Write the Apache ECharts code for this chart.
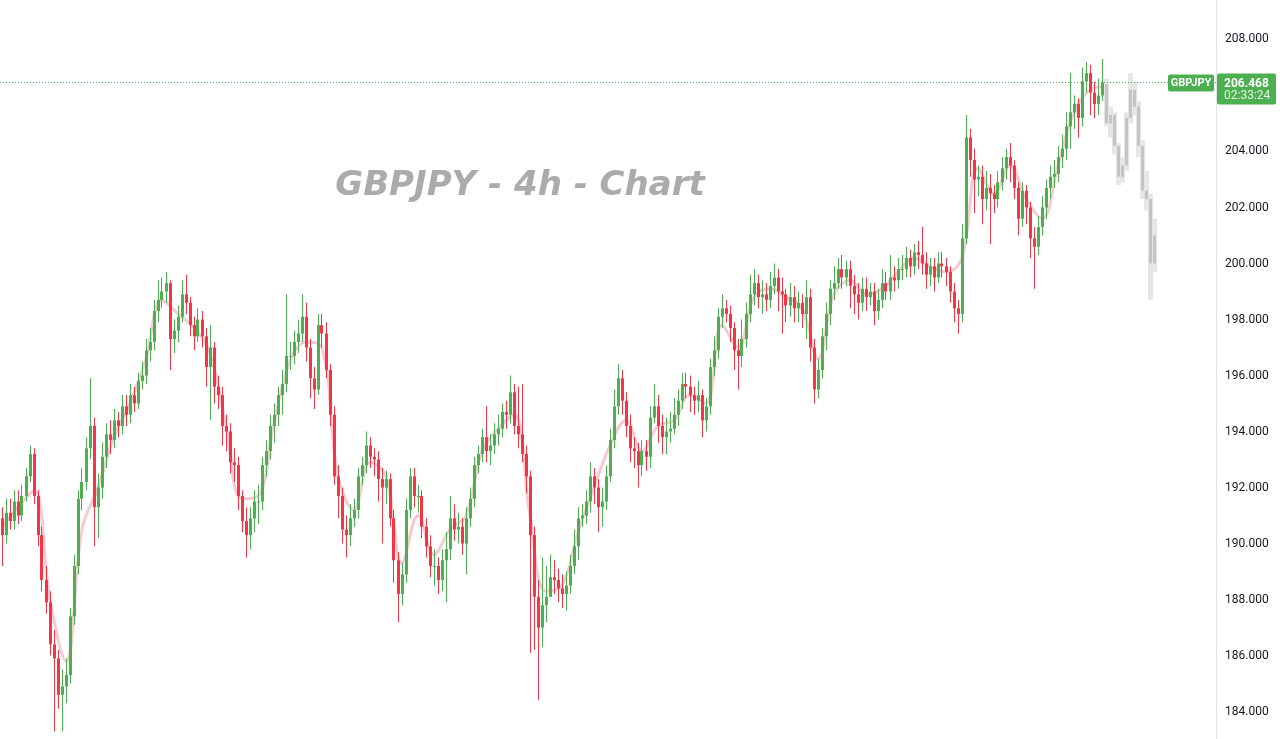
<!DOCTYPE html>
<html><head><meta charset="utf-8">
<script src="https://cdn.jsdelivr.net/npm/echarts@6/dist/echarts.min.js"></script>
<style>html,body{margin:0;padding:0;background:#fff;overflow:hidden}#c{width:1280px;height:739px}</style>
</head><body><div id="c"></div>
<script>
// ---- data (4h candles) ----
const opens = [
190.9,190.3,191.1,190.8,191.5,191.0,191.7,192.4,193.2,191.7,
190.3,188.7,187.9,186.4,185.9,184.6,184.9,185.3,187.4,189.2,
191.6,192.2,193.4,194.2,191.3,192.0,193.1,193.9,193.7,194.4,
194.2,194.9,194.6,195.3,195.0,195.8,196.0,196.9,197.2,198.3,
198.7,199.0,199.3,197.3,197.6,198.1,198.9,198.6,197.8,197.4,
198.0,197.4,196.3,197.0,195.6,195.3,194.2,194.0,192.9,192.8,
191.7,190.8,190.3,190.9,191.5,191.5,192.8,193.3,194.2,194.6,
195.3,195.7,196.7,196.7,197.2,197.5,198.1,197.0,195.9,195.5,
197.8,197.5,196.2,194.6,192.4,191.7,190.5,190.3,190.9,191.2,
192.4,192.8,193.5,193.1,193.0,192.3,192.0,192.3,190.9,189.4,
188.2,188.9,191.2,192.4,191.7,191.7,190.6,189.9,189.2,189.2,
188.7,189.4,189.8,190.9,190.5,190.6,190.0,190.9,191.6,192.8,
193.2,193.8,193.3,193.5,193.9,194.1,194.7,194.6,195.4,194.2,
193.9,193.2,192.4,190.3,188.1,187.0,187.8,188.1,188.8,188.7,
188.4,188.2,188.5,189.2,189.9,190.9,191.0,191.5,192.4,192.0,
191.3,191.5,192.4,193.7,194.9,195.9,195.1,194.2,193.4,193.3,
192.8,193.3,193.1,194.5,194.9,194.2,193.8,194.0,194.1,194.6,
195.1,195.7,195.6,195.3,195.1,195.3,194.4,194.9,196.3,196.9,
198.1,198.4,198.2,197.7,196.9,196.7,197.3,198.2,198.9,199.3,
198.8,198.9,198.7,199.2,199.5,199.0,198.9,198.5,198.8,198.4,
198.6,198.2,198.8,197.0,195.5,196.2,197.4,198.2,199.1,199.3,
199.8,199.5,199.8,199.2,198.9,198.6,199.1,198.8,199.0,198.3,
198.7,199.3,199.0,199.5,199.4,199.8,199.8,200.2,199.9,200.4,
200.3,200.0,199.6,199.9,199.5,200.0,199.9,199.7,199.0,198.4,
198.2,200.9,204.5,203.7,203.0,203.1,202.3,202.7,202.5,202.3,
202.9,203.4,203.8,203.5,202.7,201.6,202.6,202.0,200.9,200.6,
201.3,202.0,202.7,203.1,203.2,203.8,204.1,204.9,205.4,205.7,
205.2,206.5,206.8,206.1,205.7,206.0
];
const closes = [
190.3,191.1,190.8,191.5,191.0,191.7,192.4,193.2,191.7,190.3,
188.7,187.9,186.4,185.9,184.6,184.9,185.3,187.4,189.2,191.6,
192.2,193.4,194.2,191.3,192.0,193.1,193.9,193.7,194.4,194.2,
194.9,194.6,195.3,195.0,195.8,196.0,196.9,197.2,198.3,198.7,
199.0,199.3,197.3,197.6,198.1,198.9,198.6,197.8,197.4,198.0,
197.4,196.3,197.0,195.6,195.3,194.2,194.0,192.9,192.8,191.7,
190.8,190.3,190.9,191.5,191.5,192.8,193.3,194.2,194.6,195.3,
195.7,196.7,196.7,197.2,197.5,198.1,197.0,195.9,195.5,197.8,
197.5,196.2,194.6,192.4,191.7,190.5,190.3,190.9,191.2,192.4,
192.8,193.5,193.1,193.0,192.3,192.0,192.3,190.9,189.4,188.2,
188.9,191.2,192.4,191.7,191.7,190.6,189.9,189.2,189.2,188.7,
189.4,189.8,190.9,190.5,190.6,190.0,190.9,191.6,192.8,193.2,
193.8,193.3,193.5,193.9,194.1,194.7,194.6,195.4,194.2,193.9,
193.2,192.4,190.3,188.1,187.0,187.8,188.1,188.8,188.7,188.4,
188.2,188.5,189.2,189.9,190.9,191.0,191.5,192.4,192.0,191.3,
191.5,192.4,193.7,194.9,195.9,195.1,194.2,193.4,193.3,192.8,
193.3,193.1,194.5,194.9,194.2,193.8,194.0,194.1,194.6,195.1,
195.7,195.6,195.3,195.1,195.3,194.4,194.9,196.3,196.9,198.1,
198.4,198.2,197.7,196.9,196.7,197.3,198.2,198.9,199.3,198.8,
198.9,198.7,199.2,199.5,199.0,198.9,198.5,198.8,198.4,198.6,
198.2,198.8,197.0,195.5,196.2,197.4,198.2,199.1,199.3,199.8,
199.5,199.8,199.2,198.9,198.6,199.1,198.8,199.0,198.3,198.7,
199.3,199.0,199.5,199.4,199.8,199.8,200.2,199.9,200.4,200.3,
200.0,199.6,199.9,199.5,200.0,199.9,199.7,199.0,198.4,198.2,
200.9,204.5,203.7,203.0,203.1,202.3,202.7,202.5,202.3,202.9,
203.4,203.8,203.5,202.7,201.6,202.6,202.0,200.9,200.6,201.3,
202.0,202.7,203.1,203.2,203.8,204.1,204.9,205.4,205.7,205.2,
206.5,206.8,206.1,205.7,206.0,206.468
];
const highs = [
191.3,191.6,191.6,191.9,191.9,192.1,192.7,193.5,193.4,191.9,
190.6,189.2,188.3,186.9,186.2,185.5,185.9,187.7,189.6,191.9,
192.7,193.8,195.9,194.5,192.5,193.6,194.3,194.4,194.8,194.7,
195.3,195.3,195.7,195.6,196.1,196.5,197.3,197.7,198.7,199.4,
199.5,199.7,199.4,198.0,198.5,199.4,199.6,198.8,198.1,198.4,
198.3,197.7,197.8,197.2,196.0,195.6,194.6,194.3,193.4,193.1,
191.9,191.3,191.3,191.9,192.1,193.1,193.7,194.6,195.0,195.6,
196.2,198.9,197.2,197.6,198.0,198.9,198.6,197.3,196.3,198.2,
198.2,197.9,196.4,194.9,192.8,192.0,191.0,191.4,191.6,192.7,
193.1,194.0,193.8,193.4,193.3,192.7,192.6,192.5,191.2,189.7,
189.3,191.6,192.7,192.7,192.1,191.9,190.9,190.3,189.8,189.5,
189.8,190.4,191.7,191.4,191.1,190.9,191.3,192.0,193.1,193.5,
194.1,194.9,193.9,194.3,194.6,195.0,195.1,196.0,195.7,195.6,
195.7,193.5,192.6,190.6,188.7,189.5,189.2,189.6,189.4,189.1,
188.9,189.0,189.6,190.5,191.3,191.4,191.9,192.9,192.7,192.3,
192.0,192.8,194.1,195.5,196.4,196.2,195.4,194.6,193.8,193.6,
193.7,193.7,194.9,195.7,195.3,194.6,194.5,194.7,195.2,195.5,
196.1,196.1,196.0,195.6,195.8,195.5,195.2,196.6,197.4,198.4,
198.9,198.7,198.5,197.9,197.3,198.0,198.6,199.6,199.8,199.6,
199.4,199.3,199.7,200.0,199.8,199.5,199.1,199.3,199.2,199.0,
198.9,199.4,199.1,197.3,196.6,197.7,198.6,199.4,199.9,200.2,
200.3,200.1,200.1,199.6,199.3,199.5,199.5,199.3,199.3,199.1,
199.8,199.7,200.3,199.9,200.2,200.3,200.6,200.5,200.7,200.8,
201.3,200.4,200.2,200.2,200.4,200.4,200.2,199.9,199.3,198.7,
201.4,205.3,204.8,204.1,203.5,203.5,203.3,203.2,202.8,203.3,
203.8,204.1,204.3,203.7,202.9,202.9,202.8,202.2,201.3,201.7,
202.4,203.0,203.5,203.7,204.2,204.6,205.4,206.8,206.0,205.9,
207.0,207.2,207.1,206.5,206.6,207.3
];
const lows = [
189.2,190.0,190.5,190.5,190.7,190.8,191.5,192.2,191.4,189.9,
188.3,187.5,186.0,183.3,184.1,183.3,184.3,185.0,187.1,188.9,
191.2,191.9,193.0,189.9,190.2,191.6,192.7,193.2,193.4,193.8,
193.9,194.2,194.3,194.7,194.8,195.5,195.7,196.5,196.9,197.9,
198.4,198.6,196.2,196.8,197.2,197.9,198.2,197.4,196.9,197.2,
197.0,195.6,194.4,195.0,194.8,193.5,193.3,192.5,192.2,191.2,
190.4,189.5,189.8,190.4,190.7,191.2,192.4,193.0,193.6,194.2,
194.6,195.4,196.2,196.4,196.8,197.2,196.5,195.2,194.8,195.3,
197.0,195.9,194.2,192.1,190.9,190.0,189.5,189.9,190.6,190.9,
192.1,192.5,192.7,192.4,191.5,190.0,191.4,190.6,188.6,187.2,
187.8,188.6,190.9,191.3,191.1,190.2,189.5,188.8,188.5,188.2,
188.3,187.9,189.4,190.1,190.0,189.6,188.9,190.6,191.3,192.5,
192.9,192.9,192.8,193.2,193.5,193.8,194.1,194.3,193.9,193.4,
192.9,191.8,186.1,186.2,184.4,186.3,187.2,188.1,188.2,187.9,
187.7,187.6,188.2,188.9,189.4,190.6,190.7,191.1,191.4,190.4,
190.6,191.2,192.2,193.4,194.6,194.6,193.8,192.9,192.7,192.0,
192.4,192.6,192.7,194.3,193.6,193.2,193.2,193.6,193.9,194.2,
194.8,195.2,194.7,194.6,194.7,193.8,194.0,194.6,196.0,196.6,
197.7,197.9,197.2,196.2,195.5,196.3,197.0,197.9,198.5,198.4,
198.2,198.3,198.4,198.9,198.3,197.5,197.9,198.1,197.9,197.9,
197.7,197.3,196.5,195.0,195.2,195.9,196.9,197.8,198.7,199.1,
199.1,199.2,198.4,198.2,198.0,198.3,198.3,198.5,197.8,198.0,
198.4,198.7,198.7,199.0,199.1,199.4,199.5,199.5,199.6,199.8,
199.6,199.1,199.2,199.0,199.3,199.5,199.2,198.6,197.9,197.5,
197.9,200.7,203.1,201.8,202.4,201.4,201.9,200.7,201.8,202.0,
202.6,203.0,202.9,202.3,201.0,201.3,201.4,200.2,199.1,200.3,
201.0,201.6,202.3,202.7,202.9,203.4,203.7,204.1,204.8,204.5,
204.9,206.1,205.3,205.2,205.3,205.8
];
// projected (ghost) candles on the right
const ghostOpen  = [206.4,205.0,205.3,204.2,203.1,203.5,205.2,206.2,205.6,204.2,202.6,202.3,200.0];
const ghostClose = [205.0,205.3,204.2,203.1,203.5,205.2,206.2,205.6,204.2,202.6,202.3,200.0,201.0];
const ghostLow   = [204.9,204.5,203.9,202.8,202.9,203.3,205.0,205.3,203.8,202.3,201.9,198.7,199.7];
const ghostHigh  = [206.6,205.6,205.4,204.3,203.8,205.4,206.8,206.5,205.8,204.4,203.3,202.5,201.6];

// smoothed average line (one value every 4 candles, last at the final candle)
const avgIndex = [0,4,8,12,16,20,24,28,32,36,40,44,48,52,56,60,64,68,72,76,80,84,88,92,96,100,104,108,112,116,
  120,124,128,132,136,140,144,148,152,156,160,164,168,172,176,180,184,188,192,196,200,204,208,212,216,220,224,228,232,236,
  240,244,248,252,256,260,264,268,272,275];
const avgValues = [190.6,191.3,191.9,188.0,185.8,190.5,192.0,193.8,195.0,196.6,198.7,198.2,197.7,196.8,194.2,191.6,191.7,194.3,196.5,197.2,
  197.0,192.4,191.2,192.9,192.4,189.3,191.0,189.6,190.5,191.0,193.3,194.1,194.6,191.0,188.3,188.5,190.4,192.0,193.5,194.4,
  193.3,194.2,194.4,195.3,195.0,197.8,197.0,198.8,199.1,198.8,198.4,196.6,198.9,199.4,198.9,199.1,199.7,200.2,199.9,199.7,
  200.2,203.4,202.5,203.5,202.3,201.6,203.5,205.4,206.2,206.3];

const yTicks = [184,186,188,190,192,194,196,198,200,202,204,206,208];
const symbolName = 'GBPJPY';
const lastPrice = 206.468;
const countdown = '02:33:24';
const watermark = 'GBPJPY - 4h - Chart';
const slotCount = 304; // candle slots across the plot, incl. empty space on the right

// ---- chart ----
const UP = '#4caf50', DOWN = '#f23645';
const categories = Array.from({length: slotCount}, (_, i) => String(i));
const realData = opens.map((o, i) => [i, o, closes[i], lows[i], highs[i]]);
const ghostData = ghostOpen.map((o, i) => [opens.length + i, o, ghostClose[i], ghostLow[i], ghostHigh[i]]);
const avgData = avgIndex.map((i, k) => [i, avgValues[k]]);

function renderCandle(params, api) {
  const x = api.value(0), o = api.value(1), c = api.value(2), l = api.value(3), h = api.value(4);
  const pO = api.coord([x, o]), pC = api.coord([x, c]), pL = api.coord([x, l]), pH = api.coord([x, h]);
  const col = c >= o ? UP : DOWN;
  const cx = Math.floor(pO[0]);
  const top = Math.min(pO[1], pC[1]), hgt = Math.max(1, Math.abs(pO[1] - pC[1]));
  return {type: 'group', children: [
    {type: 'rect', shape: {x: cx, y: pH[1], width: 1, height: pL[1] - pH[1]}, style: {fill: col}},
    {type: 'rect', shape: {x: cx - 1, y: top, width: 3, height: hgt}, style: {fill: col}}
  ]};
}
function renderGhost(params, api) {
  const x = api.value(0), o = api.value(1), c = api.value(2), l = api.value(3), h = api.value(4);
  const pO = api.coord([x, o]), pC = api.coord([x, c]), pL = api.coord([x, l]), pH = api.coord([x, h]);
  const cx = Math.floor(pO[0]);
  const top = Math.min(pO[1], pC[1]), hgt = Math.max(1, Math.abs(pO[1] - pC[1]));
  return {type: 'group', children: [
    {type: 'rect', shape: {x: cx - 2, y: pH[1], width: 5, height: pL[1] - pH[1]}, style: {fill: '#e6e6e6'}},
    {type: 'rect', shape: {x: cx - 1, y: top, width: 3, height: hgt}, style: {fill: '#c4c4c4'}}
  ]};
}

const chart = echarts.init(document.getElementById('c'));
chart.setOption({
  animation: false,
  backgroundColor: '#ffffff',
  grid: {left: 0, right: 64, top: 0, bottom: 0},
  xAxis: {type: 'category', data: categories, boundaryGap: true, show: false},
  yAxis: {
    type: 'value', position: 'right', min: 183.02, max: 209.41,
    splitLine: {show: false},
    axisLine: {show: true, lineStyle: {color: '#e0e3eb', width: 1}},
    axisTick: {show: false},
    axisLabel: {
      customValues: yTicks, formatter: v => v.toFixed(3),
      color: '#131722', fontSize: 12, fontFamily: 'Roboto', margin: 9
    }
  },
  series: [
    {
      type: 'custom', data: ghostData, encode: {x: 0, y: [1, 2, 3, 4]},
      renderItem: renderGhost, z: 2, clip: true
    },
    {
      type: 'line', data: avgData, smooth: 0.4, showSymbol: false, silent: true,
      lineStyle: {color: 'rgba(236,120,150,0.4)', width: 3}, z: 2,
      markLine: {
        silent: true, symbol: 'none', label: {show: false},
        lineStyle: {color: '#4caf50', type: [1, 2], width: 1},
        data: [{yAxis: lastPrice}]
      }
    },
    {
      type: 'custom', data: realData, encode: {x: 0, y: [1, 2, 3, 4]},
      renderItem: renderCandle, z: 3, clip: true
    }
  ]
});

const py = chart.convertToPixel({yAxisIndex: 0}, lastPrice);
const axisX = chart.convertToPixel({xAxisIndex: 0}, slotCount - 1) + 2;
chart.setOption({
  graphic: [
    {type: 'text', x: 520, y: 186, silent: true, z: 0,
      style: {text: watermark, align: 'center', verticalAlign: 'middle',
        fill: '#ababab', font: 'italic bold 34px "DejaVu Sans"'}},
    {type: 'rect', z: 10, shape: {x: axisX - 48, y: py - 8, width: 46, height: 17, r: 2},
      style: {fill: '#4caf50'}},
    {type: 'text', z: 11, style: {text: symbolName, x: axisX - 25, y: py + 0.5, align: 'center', verticalAlign: 'middle',
      fill: '#ffffff', font: 'bold 11px Roboto'}},
    {type: 'rect', z: 10, shape: {x: axisX + 1, y: py - 9, width: 59, height: 31, r: 2},
      style: {fill: '#4caf50'}},
    {type: 'text', z: 11, style: {text: lastPrice.toFixed(3), x: axisX + 8, y: py + 1.5, align: 'left', verticalAlign: 'middle',
      fill: '#ffffff', font: 'bold 12px Roboto'}},
    {type: 'text', z: 11, style: {text: countdown, x: axisX + 8, y: py + 14, align: 'left', verticalAlign: 'middle',
      fill: 'rgba(255,255,255,0.85)', font: '12px Roboto'}}
  ]
});
</script>
</body></html>
